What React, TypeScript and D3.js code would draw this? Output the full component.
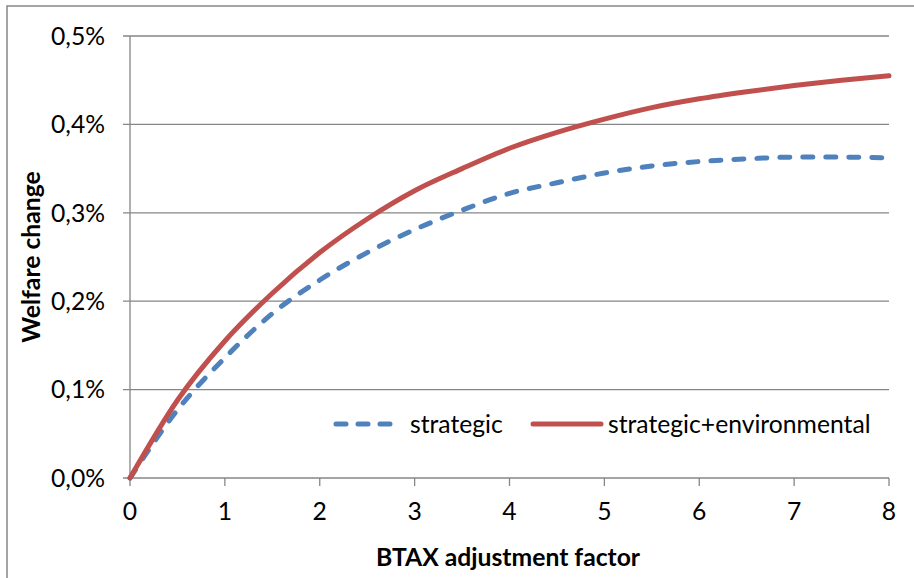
import React from "react";
import * as d3 from "d3";

const xValues = [0, 0.5, 1, 1.5, 2, 2.5, 3, 3.5, 4, 4.5, 5, 5.5, 6, 6.5, 7, 7.5, 8];
const strategic = [0, 0.077, 0.136, 0.186, 0.224, 0.255, 0.281, 0.303, 0.322, 0.334, 0.345, 0.353, 0.358, 0.361, 0.363, 0.363, 0.362];
const strategicEnv = [0, 0.088, 0.155, 0.209, 0.255, 0.293, 0.325, 0.350, 0.373, 0.391, 0.406, 0.419, 0.429, 0.437, 0.444, 0.450, 0.455];
const xTicks = [0, 1, 2, 3, 4, 5, 6, 7, 8];
const yTicks = [0, 0.1, 0.2, 0.3, 0.4, 0.5];
const seriesNames = ["strategic", "strategic+environmental"];

const W = 914;
const H = 578;
const FONT = "Lato, 'Open Sans', sans-serif";
const FS = 24.7;
const GRID = "#868686";
const BLUE = "#4F81BD";
const RED = "#C0504D";

export default function App() {
  const x = d3.scaleLinear().domain([0, 8]).range([130, 889]);
  const y = d3.scaleLinear().domain([0, 0.5]).range([478, 36]);
  const line = d3
    .line<number>()
    .x((_, i) => x(xValues[i]))
    .y((d) => y(d))
    .curve(d3.curveMonotoneX);
  const fmt = (v: number) => v.toFixed(1).replace(".", ",") + "%";

  return (
    <svg
      width={W}
      height={H}
      style={{ position: "absolute", left: 0, top: 0, background: "#fff" }}
    >
      <rect x={7} y={6} width={W + 20} height={H + 20} fill="#fff" stroke={GRID} strokeWidth={1.5} />
      {yTicks.map((t) => (
        <g key={t}>
          <line x1={123} x2={889} y1={y(t)} y2={y(t)} stroke={GRID} strokeWidth={1.3} />
          <text
            x={105}
            y={y(t)}
            dy="0.36em"
            textAnchor="end"
            fontFamily={FONT}
            fontSize={FS}
            fill="#000"
          >
            {fmt(t)}
          </text>
        </g>
      ))}
      <line x1={130} x2={130} y1={36} y2={478} stroke={GRID} strokeWidth={1.3} />
      {xTicks.map((t) => (
        <g key={t}>
          <line x1={x(t)} x2={x(t)} y1={478} y2={486} stroke={GRID} strokeWidth={1.3} />
          <text
            x={x(t)}
            y={520}
            textAnchor="middle"
            fontFamily={FONT}
            fontSize={FS}
            fill="#000"
          >
            {t}
          </text>
        </g>
      ))}
      <path
        d={line(strategic) || ""}
        fill="none"
        stroke={BLUE}
        strokeWidth={5}
        strokeDasharray="10 13"
        strokeLinecap="round"
      />
      <path
        d={line(strategicEnv) || ""}
        fill="none"
        stroke={RED}
        strokeWidth={5}
        strokeLinecap="round"
      />
      {/* legend */}
      <line x1={336} x2={394} y1={424} y2={424} stroke={BLUE} strokeWidth={5} strokeDasharray="10 12" strokeLinecap="round" />
      <text x={410} y={424} dy="0.36em" fontFamily={FONT} fontSize={FS} fill="#000">
        {seriesNames[0]}
      </text>
      <line x1={533} x2={601} y1={424} y2={424} stroke={RED} strokeWidth={5} strokeLinecap="round" />
      <text x={608} y={424} dy="0.36em" fontFamily={FONT} fontSize={FS} fill="#000">
        {seriesNames[1]}
      </text>
      <text
        x={508}
        y={566}
        textAnchor="middle"
        fontFamily={FONT}
        fontSize={FS}
        fontWeight="bold"
        fill="#000"
      >
        BTAX adjustment factor
      </text>
      <text
        transform="translate(40,257) rotate(-90)"
        textAnchor="middle"
        fontFamily={FONT}
        fontSize={FS}
        fontWeight="bold"
        fill="#000"
      >
        Welfare change
      </text>
    </svg>
  );
}
